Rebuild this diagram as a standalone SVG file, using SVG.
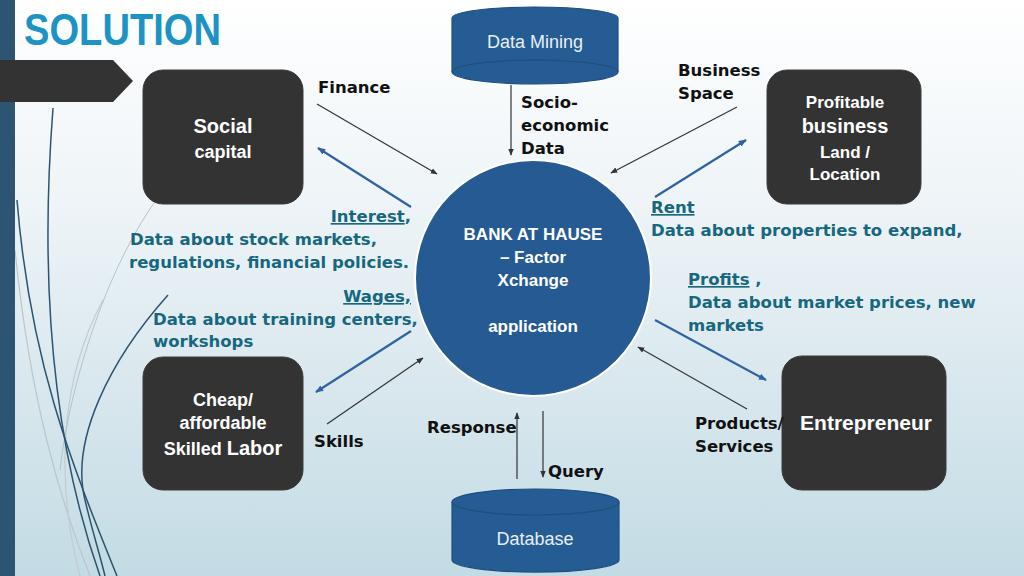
<svg xmlns="http://www.w3.org/2000/svg" width="1024" height="576" viewBox="0 0 1024 576">
<defs>
<linearGradient id="bg" x1="0" y1="0" x2="0" y2="1">
<stop offset="0" stop-color="#ffffff"/>
<stop offset="0.35" stop-color="#eef4f7"/>
<stop offset="1" stop-color="#c3dbe4"/>
</linearGradient>
<marker id="ak" viewBox="0 0 10 10" refX="9" refY="5" markerWidth="7" markerHeight="7" orient="auto" markerUnits="userSpaceOnUse"><path d="M0,1 L10,5 L0,9 z" fill="#333"/></marker>
<marker id="ab" viewBox="0 0 10 10" refX="9" refY="5" markerWidth="8" markerHeight="8" orient="auto" markerUnits="userSpaceOnUse"><path d="M0,1 L10,5 L0,9 z" fill="#2e62a3"/></marker>
<style>
.box{fill:#333333;stroke:#3d3d3d;stroke-width:1}
.bt{font-family:"Liberation Sans",Arial,sans-serif;font-weight:bold;fill:#ffffff;text-anchor:middle}
.lbl{font-family:"DejaVu Sans",Verdana,sans-serif;font-weight:bold;font-size:16.5px;fill:#111111}
.tl{font-family:"DejaVu Sans",Verdana,sans-serif;font-weight:bold;font-size:16.5px;fill:#17677f}
.u{text-decoration:underline}
.k{stroke:#333;stroke-width:1.2;fill:none;marker-end:url(#ak)}
.b{stroke:#2e62a3;stroke-width:2.2;fill:none;marker-end:url(#ab)}
.cyl{fill:#265c94;stroke:#1f4e7d;stroke-width:1.2}
.ct{font-family:"Liberation Sans",Arial,sans-serif;font-size:18px;fill:#e8eef5;text-anchor:middle}
.deco{fill:none}
</style>
</defs>
<rect width="1024" height="576" fill="url(#bg)"/>
<g id="decor">
<path class="deco" d="M15,250 C30,400 60,500 90,576" stroke="#b9c6cd" stroke-width="1.2"/>
<path class="deco" d="M103,300 C60,380 55,480 80,576" stroke="#c0ccd2" stroke-width="1.2"/>
<path class="deco" d="M160,195 C110,260 70,380 60,470" stroke="#b5c2c9" stroke-width="1"/>
<path class="deco" d="M53,108 C42,250 45,420 100,576" stroke="#2c5470" stroke-width="1.5"/>
<path class="deco" d="M17,200 C30,360 70,460 117,576" stroke="#2c5470" stroke-width="1.5"/>
<path class="deco" d="M168,295 C110,360 70,440 85,500 C92,530 100,555 105,576" stroke="#2c5470" stroke-width="1.5"/>
<rect x="0" y="0" width="15" height="576" fill="#2b5571"/>
<path d="M0,60 L113,60 L133,81 L113,102 L0,102 z" fill="#333333"/>
</g>
<text x="24" y="45" font-family="'Century Gothic','URW Gothic','Liberation Sans',sans-serif" font-weight="bold" font-size="44" textLength="197" lengthAdjust="spacingAndGlyphs" fill="#1c93c3">SOLUTION</text>

<g id="connectors">
<line class="k" x1="317" y1="104" x2="437" y2="174"/>
<line class="k" x1="511" y1="85" x2="511" y2="155"/>
<line class="k" x1="737" y1="107" x2="611" y2="173"/>
<line class="b" x1="411" y1="207" x2="318" y2="148"/>
<line class="b" x1="655" y1="197" x2="746" y2="140"/>
<line class="b" x1="411" y1="331" x2="316" y2="392"/>
<line class="k" x1="327" y1="424" x2="423" y2="358"/>
<line class="b" x1="655" y1="320" x2="766" y2="380"/>
<line class="k" x1="747" y1="409" x2="638" y2="347"/>
<line class="k" x1="517" y1="479" x2="517" y2="413"/>
<line class="k" x1="543" y1="411" x2="543" y2="477"/>
</g>

<g id="social-capital">
<rect class="box" x="143" y="70" width="160" height="134" rx="20"/>
<text class="bt" x="223" y="133" font-size="20">Social</text>
<text class="bt" x="223" y="158" font-size="18">capital</text>
</g>
<g id="profitable-business">
<rect class="box" x="767" y="70" width="154" height="134" rx="20"/>
<text class="bt" x="845" y="108" font-size="17">Profitable</text>
<text class="bt" x="845" y="133" font-size="20">business</text>
<text class="bt" x="845" y="158" font-size="17">Land /</text>
<text class="bt" x="845" y="180" font-size="17">Location</text>
</g>
<g id="skilled-labor">
<rect class="box" x="143" y="357" width="160" height="133" rx="20"/>
<text class="bt" x="223" y="406" font-size="18">Cheap/</text>
<text class="bt" x="223" y="429" font-size="18">affordable</text>
<text class="bt" x="223" y="455" font-size="18">Skilled <tspan font-size="20">Labor</tspan></text>
</g>
<g id="entrepreneur">
<rect class="box" x="782" y="356" width="164" height="134" rx="20"/>
<text class="bt" x="866" y="430" font-size="21">Entrepreneur</text>
</g>
<g id="bank-app">
<circle cx="533" cy="278" r="118" fill="#255a93" stroke="#ffffff" stroke-width="2"/>
<text class="bt" x="533" y="240" font-size="17">BANK AT HAUSE</text>
<text class="bt" x="533" y="263" font-size="17">– Factor</text>
<text class="bt" x="533" y="286" font-size="17">Xchange</text>
<text class="bt" x="533" y="332" font-size="17">application</text>
</g>
<g id="data-mining">
<path class="cyl" d="M452,18 L452,72 A83,12 0 0 0 618,72 L618,18 A83,11 0 0 0 452,18 z"/>
<path d="M452,72 A83,12 0 0 1 618,72" fill="none" stroke="#1f4e7d" stroke-width="1.2"/>
<text class="ct" x="535" y="48">Data Mining</text>
</g>
<g id="database">
<path class="cyl" d="M452,502 L452,560 A83,12 0 0 0 619,560 L619,502 A83.5,13 0 0 0 452,502 z"/>
<path d="M452,502 A83.5,13 0 0 0 619,502" fill="none" stroke="#1f4e7d" stroke-width="1.2"/>
<text class="ct" x="535" y="545">Database</text>
</g>

<g id="labels">
<text class="lbl" x="318" y="93">Finance</text>
<text class="lbl" x="521" y="108">Socio-</text>
<text class="lbl" x="521" y="131">economic</text>
<text class="lbl" x="521" y="154">Data</text>
<text class="lbl" x="678" y="76">Business</text>
<text class="lbl" x="678" y="99">Space</text>
<text class="tl" x="411" y="222" text-anchor="end"><tspan class="u"> Interest</tspan>,</text>
<text class="tl" x="130" y="245">Data about stock markets,</text>
<text class="tl" x="129" y="268">regulations, financial policies.</text>
<text class="tl u" x="411" y="302" text-anchor="end">Wages,</text>
<text class="tl" x="153" y="325">Data about training centers,</text>
<text class="tl" x="153" y="347">workshops</text>
<text class="tl u" x="651" y="213">Rent</text>
<text class="tl" x="651" y="236">Data about properties to expand,</text>
<text class="tl" x="688" y="285"><tspan class="u">Profits</tspan> ,</text>
<text class="tl" x="688" y="308">Data about market prices, new</text>
<text class="tl" x="688" y="331">markets</text>
<text class="lbl" x="314" y="447">Skills</text>
<text class="lbl" x="427" y="433">Response</text>
<text class="lbl" x="548" y="477">Query</text>
<text class="lbl" x="695" y="429">Products/</text>
<text class="lbl" x="695" y="452">Services</text>
</g>
</svg>
